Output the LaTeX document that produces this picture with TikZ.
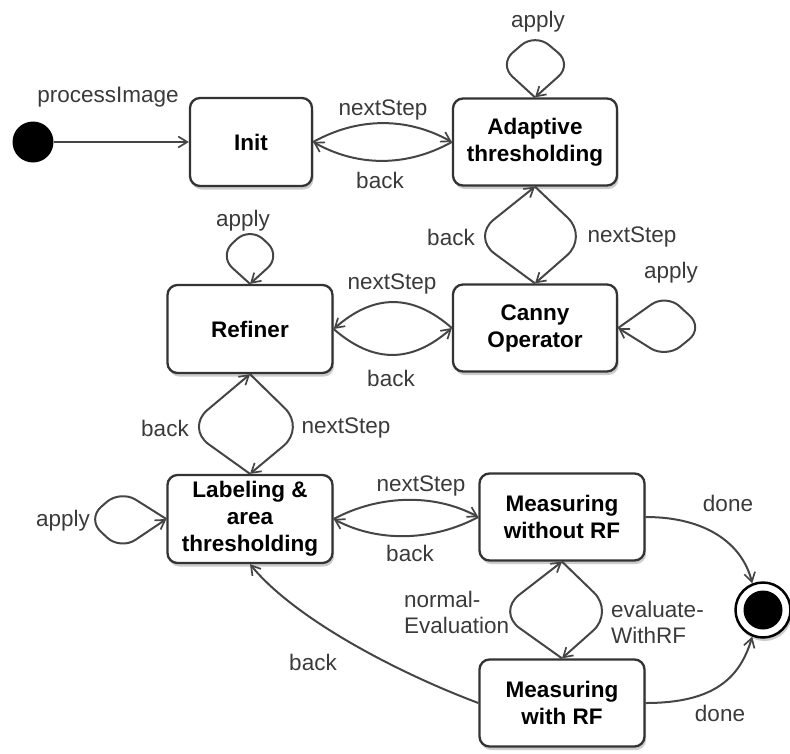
\documentclass[tikz,border=0pt]{standalone}
\usepackage{fontspec}
\setmainfont{Liberation Sans}
\usetikzlibrary{arrows.meta,shadows}
\definecolor{edgegray}{HTML}{454545}
\definecolor{labgray}{HTML}{3A3A3A}
\begin{document}
\begin{tikzpicture}[x=1pt,y=-1pt,
  statebox/.style={draw=black!80, line width=2.3pt, rounded corners=10pt, fill=white,
    minimum width=165pt, minimum height=87pt, align=center,
    font=\fontsize{22.5}{27}\selectfont\bfseries,
    drop shadow={opacity=0.4, shadow xshift=1.5pt, shadow yshift=-3.5pt}},
  trans/.style={draw=edgegray, line width=2pt, -{Straight Barb[length=9pt,width=11pt,line width=1.7pt]}},
  loopy/.style={trans, rounded corners=18pt},
  lens/.style={trans, rounded corners=28pt},
  lab/.style={text=labgray, font=\fontsize{22.5}{26}\selectfont, inner sep=0pt}]
\useasboundingbox (0,0) rectangle (790,753);

% states
\node[circle, fill=black, minimum size=41pt, inner sep=0pt] (start) at (33,142) {};
\node[statebox, minimum width=122pt, minimum height=88pt] (init) at (251,142) {Init};
\node[statebox, minimum width=164pt] (adapt) at (535,142) {Adaptive\\thresholding};
\node[statebox, minimum width=164pt] (canny) at (535,328) {Canny\\Operator};
\node[statebox, minimum height=88pt] (refiner) at (250,329) {Refiner};
\node[statebox, minimum height=88pt] (labl) at (250,519) {Labeling \&\\area\\thresholding};
\node[statebox] (mwo) at (562,517) {Measuring\\without RF};
\node[statebox] (mw) at (562,703) {Measuring\\with RF};
\node[circle, draw=black, line width=2.5pt, fill=white, minimum size=55pt, inner sep=0pt,
  drop shadow={opacity=0.4, shadow xshift=1.5pt, shadow yshift=-3.5pt}] (final) at (763,610) {};
\node[circle, fill=black, minimum size=39pt, inner sep=0pt] (finalcore) at (763,610) {};

% initial
\draw[trans] (start) -- (init);
\node[lab] (l0) at (108,97) {processImage};

% init <-> adaptive
\draw[trans] (init.east) .. controls +(45,-25) and +(-45,-25) .. (adapt.west);
\draw[trans] (adapt.west) .. controls +(-45,25) and +(45,25) .. (init.east);
\node[lab] (l1) at (383,110) {nextStep};
\node[lab] (l2) at (380,180) {back};

% adaptive apply
\draw[loopy] (adapt.north) -- +(-36,-33) -- +(0,-64) -- +(37,-33) -- (adapt.north);
\node[lab] (l3) at (538,22) {apply};

% adaptive <-> canny
\draw[lens] (adapt.south) -- (588,237) -- (canny.north);
\draw[lens] (canny.north) -- (472,237) -- (adapt.south);
\node[lab] (l4) at (451,237) {back};
\node[lab] (l5) at (632,237) {nextStep};

% canny apply
\draw[loopy] (canny.east) -- +(48,-34) -- +(85,0) -- +(48,30) -- (canny.east);
\node[lab] (l6) at (671,273) {apply};

% canny <-> refiner
\draw[trans] (canny.west) .. controls +(-40,-35) and +(40,-35) .. (refiner.east);
\draw[trans] (refiner.east) .. controls +(40,35) and +(-40,35) .. (canny.west);
\node[lab] (l7) at (392,284) {nextStep};
\node[lab] (l8) at (391,378) {back};

% refiner apply
\draw[loopy] (refiner.north) -- +(-31,-28) -- +(0,-57) -- +(31,-28) -- (refiner.north);
\node[lab] (l9) at (243,221) {apply};

% refiner <-> labeling
\draw[lens] (refiner.south) -- (305,428) -- (labl.north);
\draw[lens] (labl.north) -- (186,428) -- (refiner.south);
\node[lab] (l10) at (165,428) {back};
\node[lab] (l11) at (346,428) {nextStep};

% labeling apply
\draw[loopy] (labl.west) -- +(-46,-29) -- +(-79,0) -- +(-46,31) -- (labl.west);
\node[lab] (l12) at (63,521) {apply};

% labeling <-> measuring without RF
\draw[trans] (labl.east) .. controls +(45,-24) and +(-45,-24) .. (mwo.west);
\draw[trans] (mwo.west) .. controls +(-45,24) and +(45,24) .. (labl.east);
\node[lab] (l13) at (421,486) {nextStep};
\node[lab] (l14) at (410,553) {back};

% measuring without <-> with RF
\draw[lens] (mwo.south) -- (614,612) -- (mw.north);
\draw[lens] (mw.north) -- (497,612) -- (mwo.south);
\node[lab, align=left, anchor=west] (l15) at (404,612) {normal-\\Evaluation};
\node[lab, align=left, anchor=west] (l16) at (611,622) {evaluate-\\WithRF};

% back from measuring with RF
\draw[trans] (mw.west) .. controls +(-80,-30) and +(45,55) .. (labl.south);
\node[lab] (l17) at (313,662) {back};

% done
\draw[trans] (mwo.east) .. controls +(60,0) and +(-10,-40) .. (final.112);
\draw[trans] (mw.east) .. controls +(70,0) and +(-12,40) .. (final.248);
\node[lab] (l18) at (728,503) {done};
\node[lab] (l19) at (720,713) {done};
\end{tikzpicture}
\end{document}
